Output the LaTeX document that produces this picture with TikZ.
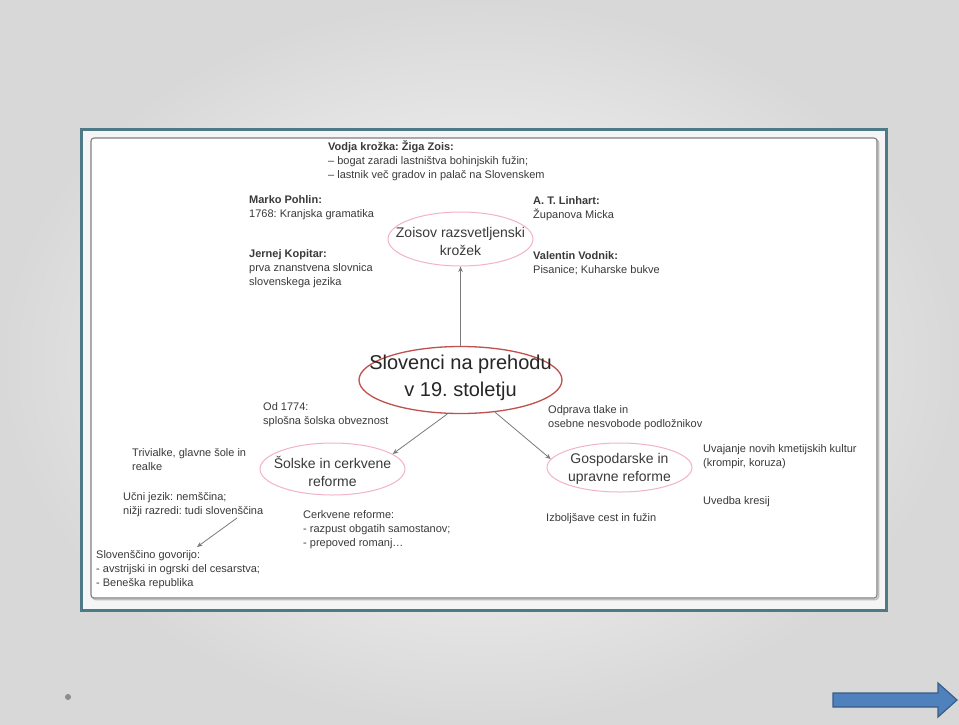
\documentclass[tikz,border=0pt]{standalone}
\usepackage{fontspec}
\setmainfont{Liberation Sans}
\usetikzlibrary{arrows.meta,shapes.geometric}
\frenchspacing
\definecolor{txtc}{HTML}{3A3A3A}
\definecolor{frameteal}{HTML}{4E7A88}
\definecolor{pinkb}{HTML}{F2B3C6}
\definecolor{redb}{HTML}{C0504D}
\definecolor{linec}{HTML}{7A7A7A}
\definecolor{arrowfill}{HTML}{4F81BD}
\definecolor{arrowdraw}{HTML}{385D8A}
\definecolor{bgedge}{HTML}{D8D8D8}
\begin{document}
\begin{tikzpicture}[x=1pt,y=-1pt,
  small/.style={font=\fontsize{11}{14}\selectfont, text=txtc, align=left, anchor=base west, inner sep=0pt},
  oval/.style={ellipse, draw=#1, line width=1pt, inner sep=0pt},
  ovaltext/.style={font=\fontsize{14}{18}\selectfont, text=txtc, align=center, inner sep=0pt},
  conn/.style={draw=linec, line width=0.8pt, -{Stealth[length=5.5pt,width=4.5pt]}},
]
\useasboundingbox (0,0) rectangle (959,724);
% background
\shade[inner color=white, outer color=bgedge] (0,0) rectangle (959,724);
% frame
\draw[frameteal, line width=3pt, fill=black!4] (81,129) rectangle (886,610);
\draw[black!25, line width=1.5pt, rounded corners=3pt] (92.5,139.5) rectangle (878.5,599.5);
\draw[gray, line width=1.1pt, rounded corners=3pt, fill=white] (91,138) rectangle (877,598);

% ellipses
\node[oval=pinkb, minimum width=145pt, minimum height=54pt] (zoisov) at (460.5,239) {};
\node[ovaltext] (zoisovt) at (460.5,241) {Zoisov razsvetljenski\\krožek};
\node[oval=redb, minimum width=203pt, minimum height=67pt, line width=1.3pt] (center) at (460.5,380) {};
\node[ovaltext, font=\fontsize{20}{27}\selectfont, text=black!85] (centert) at (460.5,378) {Slovenci na prehodu\\v 19. stoletju};
\node[oval=pinkb, minimum width=145pt, minimum height=52pt] (solske) at (332.5,469) {};
\node[ovaltext] (solsket) at (332.5,471) {Šolske in cerkvene\\reforme};
\node[oval=pinkb, minimum width=145pt, minimum height=49pt] (gosp) at (619.5,467.5) {};
\node[ovaltext] (gospt) at (619.5,469) {Gospodarske in\\upravne reforme};

% connectors
\draw[conn] (center.90) -- (zoisov.270);
\draw[conn] (center.249) -- (solske.14);
\draw[conn] (center.317) -- (gosp.173);

% text blocks (anchor = baseline of the last line)
\node[small] (zois) at (328,178.5) {\textbf{Vodja krožka: Žiga Zois:}\\– bogat zaradi lastništva bohinjskih fužin;\\– lastnik več gradov in palač na Slovenskem};
\node[small] (pohlin) at (249,217.5) {\textbf{Marko Pohlin:}\\1768: Kranjska gramatika};
\node[small] (kopitar) at (249,285.5) {\textbf{Jernej Kopitar:}\\prva znanstvena slovnica\\slovenskega jezika};
\node[small] (linhart) at (533,218.5) {\textbf{A. T. Linhart:}\\Županova Micka};
\node[small] (vodnik) at (533,273.5) {\textbf{Valentin Vodnik:}\\Pisanice; Kuharske bukve};
\node[small] (od1774) at (263,424) {Od 1774:\\splošna šolska obveznost};
\node[small] (odprava) at (548,427) {Odprava tlake in\\osebne nesvobode podložnikov};
\node[small] (trivialke) at (132,470.5) {Trivialke, glavne šole in\\realke};
\node[small] (ucni) at (123,514.5) {Učni jezik: nemščina;\\nižji razredi: tudi slovenščina};
\node[small] (cerkvene) at (303,546.5) {Cerkvene reforme:\\- razpust obgatih samostanov;\\- prepoved romanj…};
\node[small] (slovenscino) at (96,586.5) {Slovenščino govorijo:\\- avstrijski in ogrski del cesarstva;\\- Beneška republika};
\node[small] (uvajanje) at (703,466.5) {Uvajanje novih kmetijskih kultur\\(krompir, koruza)};
\node[small] (uvedba) at (703,504.5) {Uvedba kresij};
\node[small] (izboljsave) at (546,521.5) {Izboljšave cest in fužin};

\coordinate (ua) at (237,518);
\coordinate (sa) at (197,547);
\draw[conn] (ua) -- (sa);

% footer
\fill[gray!90] (68,697) circle (3pt);
\draw[arrowdraw, line width=1.2pt, fill=arrowfill, line join=miter]
  (833,693) -- (938,693) -- (938,683) -- (957,700) -- (938,717) -- (938,707) -- (833,707) -- cycle;
\end{tikzpicture}
\end{document}
